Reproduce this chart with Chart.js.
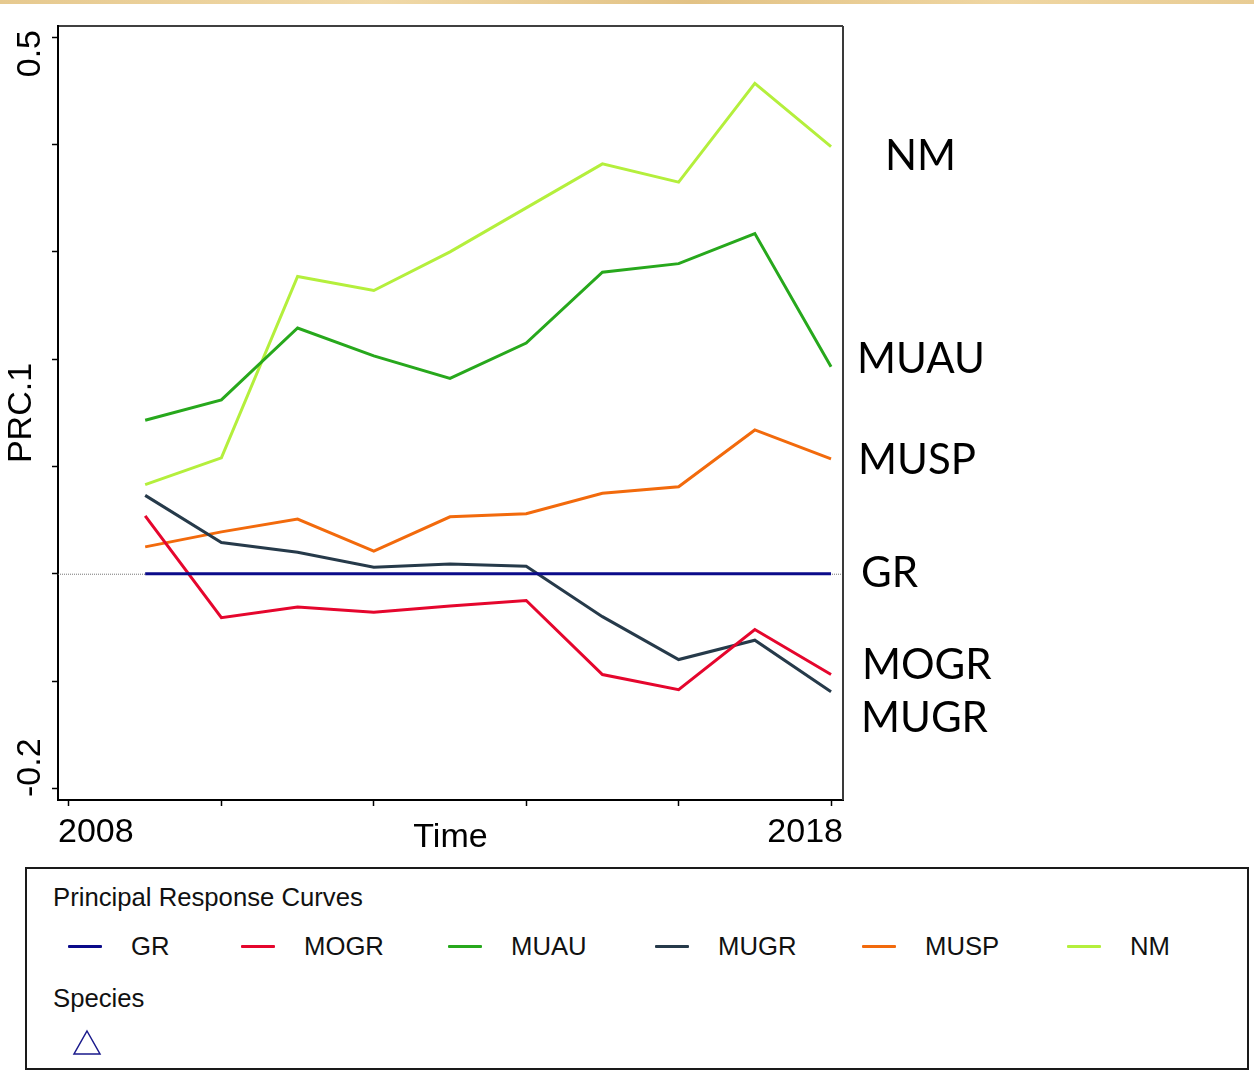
<!DOCTYPE html>
<html>
<head>
<meta charset="utf-8">
<title>Principal Response Curves</title>
<script src="https://cdn.jsdelivr.net/npm/chart.js@4.4.1/dist/chart.umd.min.js"></script>
<style>
  body { margin: 0; background: #fff; width: 1254px; height: 1072px; overflow: hidden; position: relative;
         font-family: "Liberation Sans", Arial, sans-serif; }
  #strip { position: absolute; left: 0; top: 0; width: 1254px; height: 4px;
           background: linear-gradient(90deg, #e6c98f, #f0d9a8 30%, #e2c285 55%, #efd6a2 80%, #e8cc94); }
  #c { position: absolute; left: 0; top: 0; }
  #legend { position: absolute; left: 25px; top: 867px; width: 1224px; height: 203px;
            box-sizing: border-box; border: 2px solid #1a1a1a; background: #fff; }
  #legend .txt { position: absolute; height: 30px; line-height: 30px; font-size: 25.7px; color: #111; white-space: nowrap; }
  #legend .swatch { position: absolute; width: 34px; height: 3.5px; border-radius: 1px; }
</style>
</head>
<body>
<div id="strip"></div>
<canvas id="c" width="1254" height="1072"></canvas>
<div id="legend">
  <div class="txt" style="left:26px;top:13px">Principal Response Curves</div>
  <div class="txt" style="left:26px;top:114px">Species</div>
  <svg style="position:absolute;left:45px;top:160px" width="30" height="27">
    <polygon points="15,2 28,25 2,25" fill="none" stroke="#1a1a8c" stroke-width="1.5"/>
  </svg>
</div>
<script>
// data
const years = [2009, 2010, 2011, 2012, 2013, 2014, 2015, 2016, 2017, 2018];
const seriesNames = ["GR", "MOGR", "MUAU", "MUGR", "MUSP", "NM"];
const gr   = [0, 0, 0, 0, 0, 0, 0, 0, 0, 0];
const mogr = [0.054, -0.041, -0.031, -0.036, -0.030, -0.025, -0.094, -0.108, -0.052, -0.094];
const muau = [0.143, 0.162, 0.229, 0.203, 0.182, 0.215, 0.281, 0.289, 0.317, 0.193];
const mugr = [0.073, 0.029, 0.020, 0.006, 0.009, 0.007, -0.040, -0.080, -0.062, -0.110];
const musp = [0.025, 0.039, 0.051, 0.021, 0.053, 0.056, 0.075, 0.081, 0.134, 0.107];
const nm   = [0.083, 0.108, 0.277, 0.264, 0.300, 0.341, 0.382, 0.365, 0.457, 0.398];
const xTicks = [2008, 2010, 2012, 2014, 2016, 2018];
const yTicks = [-0.2, -0.1, 0, 0.1, 0.2, 0.3, 0.4, 0.5];

// styling
const colors = { GR: "#0b0b8a", MOGR: "#e5062d", MUAU: "#27a81c", MUGR: "#263a4a", MUSP: "#f26a0c", NM: "#b4ef3c" };
const seriesValues = { GR: gr, MOGR: mogr, MUAU: muau, MUGR: mugr, MUSP: musp, NM: nm };
const sideLabelPos = { NM: [885, 170], MUAU: [857, 373], MUSP: [858, 474], GR: [861, 587], MOGR: [862, 679], MUGR: [861, 732] };
const legendX = [68, 241, 448, 655, 862, 1067];

// legend entries
const legend = document.getElementById("legend");
seriesNames.forEach((name, i) => {
  const sw = document.createElement("div");
  sw.className = "swatch";
  sw.style.left = (legendX[i] - 27) + "px";
  sw.style.top = "75.5px";
  sw.style.background = colors[name];
  legend.appendChild(sw);
  const t = document.createElement("div");
  t.className = "txt";
  t.style.left = (legendX[i] - 27 + 63) + "px";
  t.style.top = "62px";
  t.textContent = name;
  legend.appendChild(t);
});

const FONT = '"Liberation Sans", Arial, sans-serif';

const framePlugin = {
  id: "frame",
  beforeDatasetsDraw(chart) {
    const { ctx, chartArea: a, scales: { y } } = chart;
    const y0 = y.getPixelForValue(0);
    ctx.save();
    ctx.strokeStyle = "#777";
    ctx.lineWidth = 1;
    ctx.setLineDash([1, 1]);
    ctx.beginPath();
    ctx.moveTo(a.left, y0 + 0.5);
    ctx.lineTo(a.right, y0 + 0.5);
    ctx.stroke();
    ctx.restore();
  },
  afterDraw(chart) {
    const { ctx, chartArea: a } = chart;
    ctx.save();
    // top and right edges of the box
    ctx.strokeStyle = "#000";
    ctx.lineWidth = 1.5;
    ctx.beginPath();
    ctx.moveTo(a.left, a.top);
    ctx.lineTo(a.right, a.top);
    ctx.stroke();
    ctx.strokeStyle = "#3a3a3a";
    ctx.lineWidth = 2;
    ctx.beginPath();
    ctx.moveTo(a.right, a.top);
    ctx.lineTo(a.right, a.bottom);
    ctx.stroke();

    // axis end labels, pulled inside the box like the original
    ctx.fillStyle = "#000";
    ctx.font = "34px " + FONT;
    ctx.textBaseline = "alphabetic";
    ctx.textAlign = "left";
    ctx.fillText(String(xTicks[0]), a.left, 842);
    ctx.textAlign = "right";
    ctx.fillText(String(xTicks[xTicks.length - 1]), a.right, 842);

    ctx.save();
    ctx.translate(40, a.top + 4);
    ctx.rotate(-Math.PI / 2);
    ctx.textAlign = "right";
    ctx.fillText(yTicks[yTicks.length - 1].toFixed(1), 0, 0);
    ctx.restore();
    ctx.save();
    ctx.translate(40, a.bottom - 3);
    ctx.rotate(-Math.PI / 2);
    ctx.textAlign = "left";
    ctx.fillText(yTicks[0].toFixed(1), 0, 0);
    ctx.restore();

    // treatment names to the right
    ctx.font = '42px Lato, "Open Sans", sans-serif';
    ctx.textAlign = "left";
    seriesNames.forEach(n => {
      const p = sideLabelPos[n];
      ctx.fillText(n, p[0], p[1]);
    });
    ctx.restore();
  }
};

new Chart(document.getElementById("c"), {
  type: "line",
  data: {
    datasets: seriesNames.map(n => ({
      label: n,
      data: years.map((yr, i) => ({ x: yr, y: seriesValues[n][i] })),
      borderColor: colors[n],
      backgroundColor: colors[n],
      borderWidth: 3,
      pointRadius: 0,
      tension: 0,
      fill: false
    }))
  },
  options: {
    responsive: false,
    animation: false,
    devicePixelRatio: 1,
    layout: { padding: { top: 26, right: 411, left: 0, bottom: 0 } },
    plugins: { legend: { display: false }, tooltip: { enabled: false } },
    scales: {
      x: {
        type: "linear",
        min: 2007.856,
        max: 2018.157,
        afterBuildTicks: s => { s.ticks = xTicks.map(v => ({ value: v })); },
        afterFit: s => { s.height = 272; },
        ticks: { display: false },
        grid: { drawOnChartArea: false, drawTicks: true, tickLength: 6, tickWidth: 1.5, tickColor: "#000" },
        border: { color: "#000", width: 2 },
        title: { display: true, text: "Time", color: "#000", font: { family: FONT, size: 34, lineHeight: 1 },
                 padding: { top: 0, bottom: 217 } }
      },
      y: {
        min: -0.2109,
        max: 0.5105,
        afterBuildTicks: s => { s.ticks = yTicks.map(v => ({ value: v })); },
        afterFit: s => { s.width = 58; },
        ticks: { display: false },
        grid: { drawOnChartArea: false, drawTicks: true, tickLength: 6, tickWidth: 1.5, tickColor: "#000" },
        border: { color: "#000", width: 2 },
        title: { display: true, text: "PRC.1", color: "#000", font: { family: FONT, size: 34, lineHeight: 1 },
                 padding: { top: 5, bottom: 0 } }
      }
    }
  },
  plugins: [framePlugin]
});
</script>
</body>
</html>
